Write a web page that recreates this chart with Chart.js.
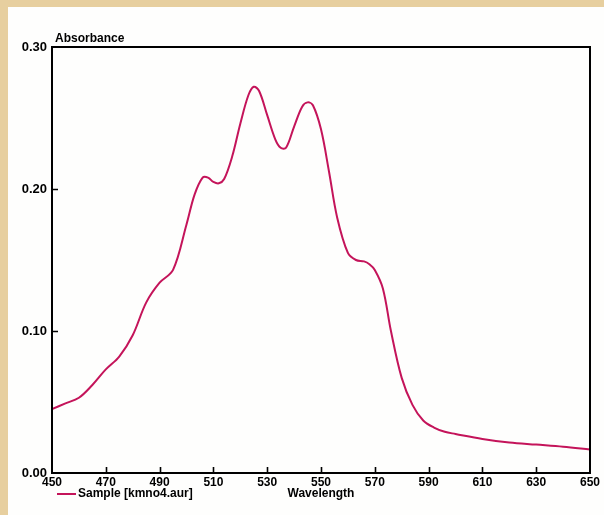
<!DOCTYPE html>
<html>
<head>
<meta charset="utf-8">
<script src="https://cdn.jsdelivr.net/npm/chart.js@4/dist/chart.umd.min.js"></script>
<style>
  html, body { margin: 0; padding: 0; background: #e7cf9f; }
  #wrap { position: absolute; left: 0; top: 0; width: 604px; height: 515px; }
  canvas { display: block; }
</style>
</head>
<body>
<div id="wrap"><canvas id="c" width="604" height="515"></canvas></div>
<script>
// ---- data ----
const wavelengths = [450,455,460,465,470,475,480,485,490,495,500,503,506,508,510,512,514,517,520,523,525,527,530,533,535,537,540,543,545,547,550,553,556,560,563,566,568,570,573,576,580,584,588,592,596,600,610,620,630,640,650];
const absorbance  = [0.045,0.049,0.053,0.062,0.073,0.082,0.097,0.120,0.134,0.143,0.175,0.196,0.208,0.208,0.205,0.204,0.207,0.223,0.246,0.266,0.272,0.269,0.252,0.235,0.229,0.229,0.244,0.258,0.261,0.259,0.242,0.212,0.180,0.155,0.150,0.149,0.147,0.143,0.130,0.100,0.067,0.048,0.037,0.032,0.029,0.0275,0.024,0.0215,0.020,0.0185,0.0165];
const xTicks = [450,470,490,510,530,550,570,590,610,630,650];
const yTicks = [0.00,0.10,0.20,0.30];
const seriesLabel = 'Sample [kmno4.aur]';
const xTitle = 'Wavelength';
const yTitle = 'Absorbance';

const LINE_COLOR = '#c4145a';
const FONT = "'Liberation Sans', Arial, Helvetica, sans-serif";

const decor = {
  id: 'decor',
  beforeDraw(chart) {
    const ctx = chart.ctx;
    ctx.save();
    ctx.fillStyle = '#fefefd';
    ctx.fillRect(8, 7, 604 - 8, 515 - 7);
    ctx.restore();
  },
  afterDraw(chart) {
    const ctx = chart.ctx;
    const a = chart.chartArea;
    const xs = chart.scales.x, ys = chart.scales.y;
    ctx.save();
    // frame
    ctx.strokeStyle = '#000';
    ctx.lineWidth = 2;
    ctx.strokeRect(a.left, a.top, a.right - a.left, a.bottom - a.top);
    // inside ticks
    ctx.lineWidth = 1.6;
    ctx.beginPath();
    xTicks.forEach(v => {
      if (v === xTicks[0] || v === xTicks[xTicks.length - 1]) return;
      const px = Math.round(xs.getPixelForValue(v)) + 0.5;
      ctx.moveTo(px, a.bottom);
      ctx.lineTo(px, a.bottom - 6);
    });
    yTicks.forEach(v => {
      if (v === yTicks[0] || v === yTicks[yTicks.length - 1]) return;
      const py = Math.round(ys.getPixelForValue(v)) + 0.5;
      ctx.moveTo(a.left, py);
      ctx.lineTo(a.left + 6, py);
    });
    ctx.stroke();
    // y title
    ctx.fillStyle = '#000';
    ctx.font = 'bold 12px ' + FONT;
    ctx.textAlign = 'left';
    ctx.textBaseline = 'alphabetic';
    ctx.fillText(yTitle, a.left + 3, a.top - 5);
    // legend
    const ly = 494;
    ctx.strokeStyle = chart.data.datasets[0].borderColor;
    ctx.lineWidth = 2;
    ctx.beginPath();
    ctx.moveTo(57, ly);
    ctx.lineTo(76, ly);
    ctx.stroke();
    ctx.font = 'bold 12px ' + FONT;
    ctx.textBaseline = 'middle';
    ctx.fillText(chart.data.datasets[0].label, 78, ly);
    // x title, on the legend row
    ctx.textAlign = 'center';
    ctx.fillText(xTitle, (a.left + a.right) / 2, ly);
    ctx.restore();
  }
};

new Chart(document.getElementById('c'), {
  type: 'line',
  data: {
    datasets: [{
      label: seriesLabel,
      data: wavelengths.map((w, i) => ({ x: w, y: absorbance[i] })),
      borderColor: LINE_COLOR,
      borderWidth: 2,
      pointRadius: 0,
      fill: false,
      tension: 0.35
    }]
  },
  options: {
    responsive: false,
    animation: false,
    devicePixelRatio: 1,
    layout: { padding: { left: 0, top: 47, right: 14, bottom: 0 } },
    plugins: { legend: { display: false }, tooltip: { enabled: false } },
    scales: {
      x: {
        type: 'linear',
        min: 450, max: 650,
        afterBuildTicks: s => { s.ticks = xTicks.map(v => ({ value: v })); },
        afterFit: s => { s.height = 42; },
        grid: { display: false, drawTicks: false },
        border: { display: false },
        ticks: {
          color: '#000', padding: 2, maxRotation: 0, autoSkip: false,
          font: { family: FONT, size: 12, weight: 'bold' },
          callback: v => String(v)
        },
        title: { display: false }
      },
      y: {
        type: 'linear',
        min: 0, max: 0.3,
        afterBuildTicks: s => { s.ticks = yTicks.map(v => ({ value: v })); },
        afterFit: s => { s.width = 52; },
        grid: { display: false, drawTicks: false },
        border: { display: false },
        ticks: {
          color: '#000', padding: 5,
          font: { family: FONT, size: 13, weight: 'bold' },
          callback: v => Number(v).toFixed(2)
        }
      }
    }
  },
  plugins: [decor]
});
</script>
</body>
</html>
